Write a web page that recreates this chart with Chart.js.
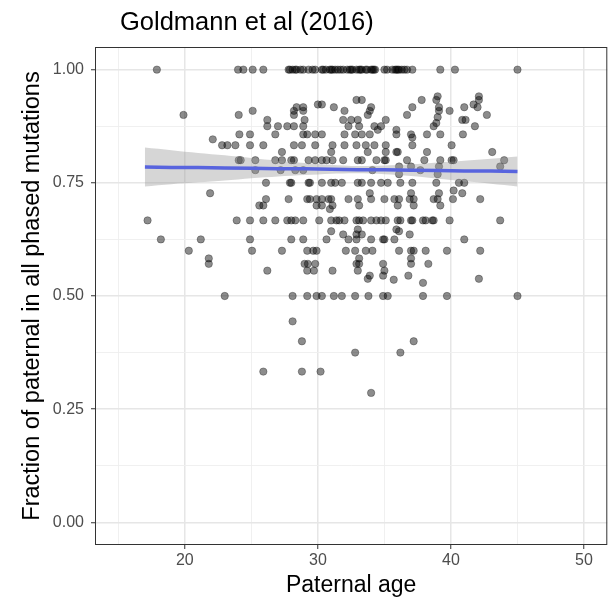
<!DOCTYPE html>
<html>
<head>
<meta charset="utf-8">
<script src="https://cdn.jsdelivr.net/npm/chart.js@4.4.0/dist/chart.umd.min.js"></script>
<style>
  html, body { margin: 0; padding: 0; background: #fff; }
  #chart { display: block; }
</style>
</head>
<body>
<canvas id="chart" width="612" height="602"></canvas>
<script>
// Paternal age of each trio and the fraction of phased mutations that are paternal
// (rows below line up: one line of ages per line of fractions)
const paternalAge = [
  17.9, 24.0, 24.4, 25.1, 25.9, 27.8, 27.9, 28.1, 28.3, 28.4,
  28.7, 28.9, 29.3, 29.6, 29.8, 30.3, 30.4, 30.6, 30.9, 31.0,
  31.1, 31.3, 31.5, 31.7, 31.9, 32.2, 32.4, 32.5, 32.6, 32.9,
  33.1, 33.2, 33.3, 33.6, 33.7, 34.0, 34.1, 34.2, 34.3, 35.0,
  35.2, 35.6, 35.8, 35.9, 36.0, 36.1, 36.3, 36.5, 36.7, 37.1,
  39.2, 40.3, 45.0,
  19.9, 24.05, 25.1, 28.4, 28.2, 28.2, 28.9, 28.9, 30.0, 30.3,
  31.2, 32.0, 32.9, 33.3, 34.0, 33.9, 33.75, 37.8, 39.0, 38.9,
  42.1, 42.1, 37.1, 39.1, 39.1, 41.7, 42.0, 41.0, 39.9, 36.7,
  39.0, 42.7,
  26.2, 26.2, 27.0, 27.7, 28.2, 28.9, 29.0, 31.9, 32.5, 32.3,
  33.0, 33.1, 34.25, 35.1, 34.75, 40.85, 41.1, 38.7, 41.8, 38.9,
  22.1, 24.1, 24.9, 26.8, 28.9, 29.2, 29.8, 30.3, 33.9, 34.5,
  32.0, 32.8, 33.3, 35.9, 35.9, 37.0, 37.1, 38.2, 39.2, 40.9,
  22.8, 23.2, 23.8, 24.9, 25.9, 28.2, 28.8, 29.8, 31.1, 32.0,
  32.9, 33.6, 34.25, 35.1, 37.1, 40.05,
  27.3, 31.0, 33.75, 35.1, 35.9, 36.0, 38.2, 43.1,
  24.05, 24.2, 25.3, 26.8, 27.3, 28.0, 28.2, 29.3, 29.8, 30.3,
  30.65, 31.1, 31.9, 33.0, 33.3, 34.4, 35.0, 35.1, 36.7, 38.0,
  39.2, 40.05, 40.2, 44.0,
  25.3, 27.2, 28.3, 28.9, 34.1, 36.1, 37.0, 43.7, 37.7, 39.1,
  39.0, 36.1,
  26.1, 27.9, 28.0, 29.3, 29.4, 30.3, 31.0, 31.3, 31.8, 33.0,
  33.3, 34.0, 34.75, 35.25, 36.2, 37.1, 38.9, 40.6, 41.0,
  21.9, 33.9, 40.2, 40.85, 37.0, 39.1,
  26.1, 27.8, 29.2, 29.4, 29.9, 30.3, 30.8, 31.0, 32.3, 33.0,
  34.0, 35.0, 35.75, 36.1, 36.9, 37.2, 38.7, 39.0, 40.15, 42.2,
  25.6, 25.9, 29.9, 30.3, 31.1, 33.1, 36.0, 37.2, 39.2, 30.9,
  17.2, 23.9, 24.9, 25.9, 26.8, 27.7, 28.0, 28.3, 28.9, 30.1,
  31.0, 31.4, 31.6, 32.0, 32.9, 33.1, 33.4, 34.0, 34.4, 34.75,
  35.1, 36.0, 36.2, 37.0, 37.1, 37.9, 38.1, 38.6, 38.7, 39.9,
  43.7,
  33.0, 31.0, 31.9, 32.9, 33.3, 35.9, 36.1, 36.9,
  18.2, 21.2, 24.9, 28.0, 28.9, 30.65, 32.3, 32.9, 34.0, 34.9,
  35.0, 35.75, 41.0,
  20.3, 25.05, 27.3, 29.2, 29.65, 29.9, 32.1, 32.8, 33.6, 34.1,
  36.1, 37.0, 37.2, 38.1, 39.7, 42.2,
  21.8, 21.8, 26.2, 29.0, 29.25, 29.8, 29.2, 29.7, 33.1, 32.9,
  33.1, 31.1, 33.0, 33.9, 33.75, 37.0, 37.0, 34.9, 35.0, 34.9,
  38.3, 35.7, 36.8, 37.9, 42.1,
  23.0, 28.1, 29.2, 29.9, 30.3, 31.2, 31.8, 32.8, 33.8, 34.9,
  35.25, 37.9, 39.7, 45.0,
  28.1, 28.8, 37.2, 32.8, 36.2, 25.9, 28.8, 30.2, 34.0
];

const paternalFraction = [
  1, 1, 1, 1, 1, 1, 1, 1, 1, 1,
  1, 1, 1, 1, 1, 1, 1, 1, 1, 1,
  1, 1, 1, 1, 1, 1, 1, 1, 1, 1,
  1, 1, 1, 1, 1, 1, 1, 1, 1, 1,
  1, 1, 1, 1, 1, 1, 1, 1, 1, 1,
  1, 1, 1,
  0.9, 0.9, 0.909, 0.917, 0.909, 0.9, 0.917, 0.909, 0.923, 0.923,
  0.917, 0.909, 0.933, 0.933, 0.917, 0.909, 0.9, 0.933, 0.941, 0.933,
  0.941, 0.933, 0.917, 0.917, 0.909, 0.923, 0.917, 0.917, 0.909, 0.9,
  0.895, 0.9,
  0.889, 0.875, 0.875, 0.875, 0.875, 0.875, 0.889, 0.889, 0.889, 0.875,
  0.889, 0.875, 0.875, 0.889, 0.875, 0.889, 0.889, 0.875, 0.875, 0.882,
  0.846, 0.857, 0.857, 0.857, 0.857, 0.857, 0.857, 0.857, 0.857, 0.867,
  0.857, 0.857, 0.857, 0.867, 0.857, 0.857, 0.85, 0.857, 0.857, 0.857,
  0.833, 0.833, 0.833, 0.833, 0.833, 0.833, 0.833, 0.833, 0.833, 0.833,
  0.833, 0.833, 0.833, 0.833, 0.833, 0.833,
  0.818, 0.818, 0.818, 0.818, 0.818, 0.818, 0.818, 0.818,
  0.8, 0.8, 0.8, 0.8, 0.8, 0.8, 0.8, 0.8, 0.8, 0.8,
  0.8, 0.8, 0.8, 0.8, 0.8, 0.8, 0.8, 0.8, 0.8, 0.8,
  0.8, 0.8, 0.8, 0.8,
  0.778, 0.778, 0.778, 0.778, 0.778, 0.786, 0.786, 0.786, 0.778, 0.786,
  0.769, 0.769,
  0.75, 0.75, 0.75, 0.75, 0.75, 0.75, 0.75, 0.75, 0.75, 0.75,
  0.75, 0.75, 0.75, 0.75, 0.75, 0.75, 0.75, 0.75, 0.75,
  0.727, 0.727, 0.733, 0.727, 0.727, 0.727,
  0.714, 0.714, 0.714, 0.714, 0.714, 0.714, 0.714, 0.714, 0.714, 0.714,
  0.714, 0.714, 0.714, 0.714, 0.714, 0.714, 0.714, 0.714, 0.714, 0.714,
  0.7, 0.7, 0.7, 0.7, 0.7, 0.7, 0.7, 0.7, 0.7, 0.692,
  0.667, 0.667, 0.667, 0.667, 0.667, 0.667, 0.667, 0.667, 0.667, 0.667,
  0.667, 0.667, 0.667, 0.667, 0.667, 0.667, 0.667, 0.667, 0.667, 0.667,
  0.667, 0.667, 0.667, 0.667, 0.667, 0.667, 0.667, 0.667, 0.667, 0.667,
  0.667,
  0.647, 0.643, 0.636, 0.636, 0.636, 0.647, 0.643, 0.636,
  0.625, 0.625, 0.625, 0.625, 0.625, 0.625, 0.625, 0.625, 0.625, 0.625,
  0.625, 0.625, 0.625,
  0.6, 0.6, 0.6, 0.6, 0.6, 0.6, 0.6, 0.6, 0.6, 0.6,
  0.6, 0.6, 0.6, 0.6, 0.6, 0.6,
  0.583, 0.571, 0.556, 0.571, 0.571, 0.571, 0.556, 0.556, 0.583, 0.571,
  0.571, 0.556, 0.556, 0.545, 0.538, 0.583, 0.571, 0.571, 0.556, 0.545,
  0.571, 0.536, 0.545, 0.529, 0.538,
  0.5, 0.5, 0.5, 0.5, 0.5, 0.5, 0.5, 0.5, 0.5, 0.5,
  0.5, 0.5, 0.5, 0.5,
  0.444, 0.4, 0.4, 0.375, 0.375, 0.333, 0.333, 0.333, 0.286
];

// linear fit and its confidence band
const fitAge   = [17, 19, 21, 23, 25, 27, 29, 31, 33, 35, 37, 39, 41, 43, 45];
const fitMid   = [0.785, 0.784, 0.784, 0.783, 0.782, 0.781, 0.781, 0.780, 0.779, 0.779, 0.778, 0.777, 0.776, 0.776, 0.775];
const fitUpper = [0.828, 0.822, 0.816, 0.811, 0.805, 0.799, 0.794, 0.790, 0.787, 0.788, 0.791, 0.795, 0.799, 0.803, 0.808];
const fitLower = [0.742, 0.747, 0.751, 0.755, 0.760, 0.764, 0.767, 0.770, 0.771, 0.769, 0.765, 0.759, 0.754, 0.748, 0.742];

const xTicks = [15, 20, 25, 30, 35, 40, 45, 50];
const yTicks = [0, 0.125, 0.25, 0.375, 0.5, 0.625, 0.75, 0.875, 1];

const FONT = "'Liberation Sans', Arial, Helvetica, sans-serif";
const isMajorX = v => v % 10 === 0;
const isMajorY = v => Math.abs(v * 4 - Math.round(v * 4)) < 1e-9;

const toPoints = (xs, ys) => xs.map((x, i) => ({ x: x, y: ys[i] }));

// panel border + title, ggplot style
const panelDecor = {
  id: 'panelDecor',
  afterDraw(chart) {
    const { ctx, chartArea: a } = chart;
    ctx.save();
    ctx.strokeStyle = '#333333';
    ctx.lineWidth = 1;
    ctx.strokeRect(a.left + 0.5, a.top + 0.5, a.right - a.left - 1, a.bottom - a.top - 1);
    ctx.fillStyle = '#000000';
    ctx.font = '25.5px ' + FONT;
    ctx.textBaseline = 'middle';
    ctx.textAlign = 'left';
    ctx.fillText('Goldmann et al (2016)', 120, 23);
    ctx.restore();
  }
};

new Chart(document.getElementById('chart').getContext('2d'), {
  type: 'scatter',
  data: {
    datasets: [
      {
        label: 'fit',
        data: toPoints(fitAge, fitMid),
        showLine: true,
        borderColor: 'rgb(88, 100, 222)',
        borderWidth: 3.5,
        pointRadius: 0,
        fill: false,
        order: 0
      },
      {
        label: 'upper',
        data: toPoints(fitAge, fitUpper),
        showLine: true,
        borderWidth: 0,
        borderColor: 'rgba(0,0,0,0)',
        backgroundColor: 'rgba(153, 153, 153, 0.4)',
        pointRadius: 0,
        fill: '+1',
        tension: 0.3,
        order: 1
      },
      {
        label: 'lower',
        data: toPoints(fitAge, fitLower),
        showLine: true,
        borderWidth: 0,
        borderColor: 'rgba(0,0,0,0)',
        pointRadius: 0,
        fill: false,
        tension: 0.3,
        order: 2
      },
      {
        label: 'trios',
        data: toPoints(paternalAge, paternalFraction),
        backgroundColor: 'rgba(0, 0, 0, 0.45)',
        borderColor: 'rgba(0, 0, 0, 0.3)',
        borderWidth: 1,
        pointRadius: 3.7,
        pointHoverRadius: 3.7,
        order: 3
      }
    ]
  },
  options: {
    responsive: false,
    animation: false,
    devicePixelRatio: 1,
    layout: { padding: { top: 47, right: 2.5, bottom: 0, left: 0 } },
    plugins: {
      legend: { display: false },
      tooltip: { enabled: false },
      title: { display: false }
    },
    scales: {
      x: {
        type: 'linear',
        min: 13.25,
        max: 51.75,
        afterBuildTicks: axis => { axis.ticks = xTicks.map(v => ({ value: v })); },
        afterFit: axis => { axis.height = 57; },
        border: { display: false },
        grid: {
          color: ctx => (ctx.tick && isMajorX(ctx.tick.value) ? '#e6e6e6' : '#eeeeee'),
          lineWidth: ctx => (ctx.tick && isMajorX(ctx.tick.value) ? 1.5 : 0.9),
          tickLength: 4,
          tickColor: ctx => (ctx.tick && isMajorX(ctx.tick.value) ? '#333333' : 'rgba(0,0,0,0)'),
          tickWidth: 1
        },
        ticks: {
          autoSkip: false,
          maxRotation: 0,
          padding: 2,
          color: '#4d4d4d',
          font: { family: FONT, size: 16 },
          callback: v => (isMajorX(v) ? String(v) : '')
        },
        title: {
          display: true,
          text: 'Paternal age',
          color: '#000000',
          font: { family: FONT, size: 23 },
          padding: { top: 0, bottom: 3 }
        }
      },
      y: {
        type: 'linear',
        min: -0.05,
        max: 1.05,
        afterBuildTicks: axis => { axis.ticks = yTicks.map(v => ({ value: v })); },
        afterFit: axis => { axis.width = 95; },
        border: { display: false },
        grid: {
          color: ctx => (ctx.tick && isMajorY(ctx.tick.value) ? '#e6e6e6' : '#eeeeee'),
          lineWidth: ctx => (ctx.tick && isMajorY(ctx.tick.value) ? 1.5 : 0.9),
          tickLength: 4,
          tickColor: ctx => (ctx.tick && isMajorY(ctx.tick.value) ? '#333333' : 'rgba(0,0,0,0)'),
          tickWidth: 1
        },
        ticks: {
          autoSkip: false,
          padding: 7,
          color: '#4d4d4d',
          font: { family: FONT, size: 16 },
          callback: v => (isMajorY(v) ? v.toFixed(2) : '')
        },
        title: {
          display: true,
          text: 'Fraction of paternal in all phased mutations',
          color: '#000000',
          font: { family: FONT, size: 23.5 },
          padding: { top: 18, bottom: 0 }
        }
      }
    }
  },
  plugins: [panelDecor]
});
</script>
</body>
</html>
